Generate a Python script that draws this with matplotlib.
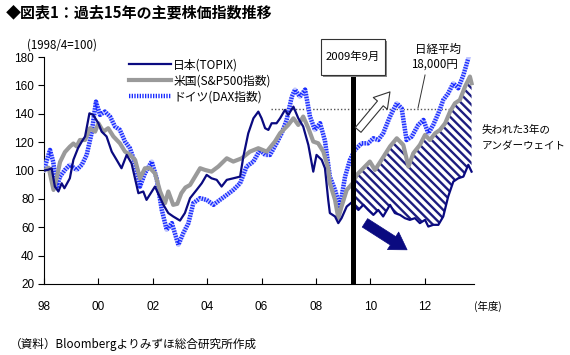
import matplotlib
matplotlib.use("Agg")
import matplotlib.pyplot as plt
from matplotlib.patches import Rectangle

# ── Fonts ──────────────────────────────────────────────────────────────────────
plt.rcParams["font.family"] = ["Noto Sans CJK JP", "DejaVu Sans"]
plt.rcParams["hatch.linewidth"] = 1.7
plt.rcParams["hatch.color"] = "#1c1c80"

# ── Data (x = year, 1998.25 = 1998/4; index 1998/4 = 100) ─────────────────────
topix_t = [1998.25, 1998.40, 1998.53, 1998.65, 1998.78, 1998.90, 1999.00, 1999.20,
           1999.33, 1999.50, 1999.64, 1999.76, 1999.92, 2000.06, 2000.25, 2000.37,
           2000.55, 2000.74, 2000.92, 2001.10, 2001.29, 2001.47, 2001.72, 2001.90,
           2002.02, 2002.33, 2002.64, 2002.82, 2003.00, 2003.25, 2003.43, 2003.62,
           2003.86, 2004.05, 2004.23, 2004.41, 2004.60, 2004.78, 2004.97, 2005.21,
           2005.46, 2005.58, 2005.76, 2005.95, 2006.13, 2006.25, 2006.38, 2006.50,
           2006.62, 2006.80, 2006.93, 2007.11, 2007.23, 2007.42, 2007.60, 2007.78,
           2007.97, 2008.15, 2008.27, 2008.46, 2008.58, 2008.70, 2008.76, 2008.95,
           2009.07, 2009.19, 2009.38, 2009.60, 2009.68, 2009.81, 2009.99, 2010.17,
           2010.36, 2010.54, 2010.72, 2010.97, 2011.15, 2011.34, 2011.52, 2011.70,
           2011.89, 2012.07, 2012.26, 2012.38, 2012.56, 2012.75, 2012.93, 2013.11,
           2013.30, 2013.48, 2013.67, 2013.85, 2013.97]
topix_v = [100, 100.5, 101.6, 88.7, 85.2, 91, 87.5, 94.5,
           107.5, 115.7, 120.4, 124, 140.3, 139.2, 133.3, 127.4,
           124, 113.3, 107.5, 101.6, 111, 105, 84, 85.2,
           79.3, 88.7, 75.8, 70, 67.6, 64.7, 70, 80.5,
           86.3, 91, 96.9, 94.5, 93.4, 88.7, 93.4, 94.5,
           95.7, 109.8, 126.2, 136.8, 141.5, 136.8, 129.8, 128.6,
           133.3, 133.3, 136.8, 142.7, 139.2, 145, 136.8, 131,
           118, 99.2, 111, 107.5, 101.6, 79.3, 70, 67.6,
           62.9, 66.4, 74.6, 78.1, 74.6, 72.2, 75.8, 72.2,
           68.7, 72.2, 67.6, 75.8, 70, 68.7, 66.4, 65.2,
           66.4, 62.9, 65.2, 60.5, 61.7, 61.7, 67.6, 81.6,
           92.2, 94.5, 95.7, 104, 99.2]

sp500_t = [1998.25, 1998.42, 1998.60, 1998.72, 1998.84, 1999.02, 1999.20, 1999.33,
           1999.45, 1999.57, 1999.76, 1999.94, 2000.13, 2000.25, 2000.43, 2000.61,
           2000.80, 2001.04, 2001.23, 2001.41, 2001.60, 2001.78, 2001.96, 2002.15,
           2002.33, 2002.52, 2002.70, 2002.82, 2003.00, 2003.15, 2003.30, 2003.45,
           2003.62, 2003.99, 2004.17, 2004.41, 2004.66, 2004.97, 2005.21, 2005.52,
           2005.82, 2006.13, 2006.44, 2006.74, 2006.93, 2007.23, 2007.42, 2007.60,
           2007.78, 2007.97, 2008.15, 2008.33, 2008.52, 2008.70, 2008.76, 2008.95,
           2009.07, 2009.19, 2009.38, 2009.60, 2009.75, 2009.99, 2010.23, 2010.42,
           2010.66, 2010.97, 2011.22, 2011.46, 2011.65, 2011.83, 2012.07, 2012.26,
           2012.44, 2012.63, 2012.81, 2013.00, 2013.18, 2013.36, 2013.54, 2013.73,
           2013.91, 2013.97]
sp500_v = [100, 102, 86.3, 95, 106, 113, 116.8, 119,
           117, 121.5, 121.5, 129.8, 127.4, 133.3, 127.4, 129.8,
           124, 119.2, 113.3, 111, 107.5, 94.5, 101.6, 101.6,
           98, 85.2, 77, 85.2, 75.8, 76.5, 84, 88,
           89.8, 101.6, 100.4, 99.2, 102.8, 108.6, 106.3, 108.6,
           113.3, 115.7, 113.3, 120.4, 126.3, 132.1, 136.8, 132.1,
           138, 129.8, 120.4, 119.2, 113.3, 101.6, 91, 79.3,
           66.4, 74.6, 86.3, 91, 96.9, 101.6, 106.3, 100.4,
           107.5, 116.9, 122.7, 118, 102.8, 112.2, 118, 125.1,
           121.5, 126.2, 128.6, 133.3, 141.5, 147.4, 149.7, 159.1,
           166.2, 161.5]

dax_t = [1998.25, 1998.32, 1998.47, 1998.59, 1998.72, 1998.84, 1999.02, 1999.20,
         1999.45, 1999.64, 1999.82, 2000.00, 2000.16, 2000.31, 2000.49, 2000.68,
         2000.86, 2001.04, 2001.23, 2001.41, 2001.60, 2001.78, 2001.96, 2002.21,
         2002.39, 2002.58, 2002.76, 2002.95, 2003.19, 2003.37, 2003.56, 2003.74,
         2003.99, 2004.23, 2004.48, 2004.72, 2004.97, 2005.21, 2005.46, 2005.70,
         2005.95, 2006.19, 2006.38, 2006.56, 2006.80, 2006.99, 2007.17, 2007.36,
         2007.48, 2007.66, 2007.85, 2008.03, 2008.21, 2008.40, 2008.58, 2008.76,
         2008.95, 2009.13, 2009.32, 2009.50, 2009.68, 2009.93, 2010.17, 2010.36,
         2010.54, 2010.72, 2010.97, 2011.22, 2011.40, 2011.58, 2011.77, 2012.01,
         2012.20, 2012.38, 2012.56, 2012.75, 2012.93, 2013.11, 2013.30, 2013.48,
         2013.67, 2013.85]
dax_v = [100, 105, 114.5, 106, 88.7, 95.7, 100.4, 104,
         100.4, 104, 111, 126.3, 148.5, 139.2, 141.5, 138,
         131, 128.6, 120.4, 115.7, 105, 88.7, 98, 106.3,
         94.5, 72.3, 58.2, 62.9, 47.6, 55.8, 62.9, 77,
         80.5, 79.3, 75.8, 79.3, 82.8, 86.3, 91, 102.8,
         106.3, 114.5, 111, 111, 119.2, 126.3, 135.6, 152,
         157, 152, 157, 138, 128.6, 133.3, 121, 95.7,
         86.3, 74.6, 95.7, 107.5, 114.5, 119.2, 119.2, 122.7,
         121.5, 126.2, 138, 147.4, 143.8, 121.5, 123.9, 132.1,
         135.6, 126.2, 132.1, 140.3, 149.7, 154.4, 161.5, 158,
         167.3, 179]

x_ticks = [1998.25, 2000.25, 2002.25, 2004.25, 2006.25, 2008.25, 2010.25, 2012.25]
x_labels = ["98", "00", "02", "04", "06", "08", "10", "12"]
y_ticks = [20, 40, 60, 80, 100, 120, 140, 160, 180]

sept_2009 = 2009.6
nikkei_18000 = 143.5      # TOPIX level equal to Nikkei 18,000
nikkei_from = 2006.6

NAVY = "#0a0a80"

# ── Figure ─────────────────────────────────────────────────────────────────────
fig = plt.figure(figsize=(5.7, 3.55), dpi=100)
ax = fig.add_axes([44 / 570, 71 / 355, 430 / 570, 227 / 355])

# DAX: light band with fine blue dots on top, like the dithered line
ax.plot(dax_t, dax_v, color="#c2c8ff", lw=3.2, zorder=3, solid_joinstyle="round")
ax.plot(dax_t, dax_v, color="#1a2cff", lw=3.2, zorder=3,
        linestyle=(0, (0.3, 0.3)), label="ドイツ(DAX指数)")
ax.plot(sp500_t, sp500_v, color="#9a9a9a", lw=3.0, label="米国(S&P500指数)", zorder=4)
ax.plot(topix_t, topix_v, color=NAVY, lw=1.6, label="日本(TOPIX)", zorder=5)

# hatched gap between S&P500 and TOPIX after 2009/9
hx = [t for t in sp500_t if t >= sept_2009] + [t for t in topix_t if t >= sept_2009][::-1]
hy = ([v for t, v in zip(sp500_t, sp500_v) if t >= sept_2009]
      + [v for t, v in zip(topix_t, topix_v) if t >= sept_2009][::-1])
ax.fill(hx, hy, facecolor="white", edgecolor="#1c1c80", hatch="\\\\\\\\", lw=0, zorder=2)

# Nikkei 18,000 level
ax.hlines(nikkei_18000, nikkei_from, 2014.0, colors="#555555", lw=1.0,
          linestyles=(0, (1, 1.5)), zorder=1)

ax.set_xlim(1998.25, 2014.06)
ax.set_ylim(20, 180)
ax.set_xticks(x_ticks)
ax.set_xticklabels(x_labels)
ax.set_yticks(y_ticks)
ax.tick_params(axis="x", direction="in", length=4, pad=12, labelsize=8.5)
ax.tick_params(axis="y", direction="out", length=4, pad=3, labelsize=8.5)
for lab in ax.get_xticklabels() + ax.get_yticklabels():
    lab.set_family(["Liberation Sans", "DejaVu Sans"])
for s in ["top", "right"]:
    ax.spines[s].set_visible(False)

handles, labels = ax.get_legend_handles_labels()
ax.legend(handles[::-1], labels[::-1], loc="upper left", bbox_to_anchor=(0.185, 1.02),
          frameon=False, fontsize=8.5, handlelength=3.5, handletextpad=0.2,
          labelspacing=0.25, borderpad=0)

# 2009/9 marker line + box
box_bottom, box_top, box_w = 167.3, 192.5, 2.35
ax.vlines(sept_2009, 20, box_bottom, colors="black", lw=3.6, zorder=6, clip_on=False)
ax.add_patch(Rectangle((sept_2009 - box_w / 2 + 0.08, box_bottom - 1.4), box_w, box_top - box_bottom,
                       facecolor="#888888", edgecolor="none", clip_on=False, zorder=6))
ax.add_patch(Rectangle((sept_2009 - box_w / 2, box_bottom), box_w, box_top - box_bottom,
                       facecolor="white", edgecolor="#333333", lw=0.8, clip_on=False, zorder=7))
ax.text(sept_2009, (box_bottom + box_top) / 2, "2009年9月", ha="center", va="center",
        fontsize=8.2, zorder=8)

# arrows
ax.annotate("", xy=(2010.97, 155.4), xytext=(2009.8, 128.6),
            arrowprops=dict(arrowstyle="simple,head_length=0.9,head_width=1.1,tail_width=0.45",
                            fc="white", ec="#333333", lw=0.8, shrinkA=0, shrinkB=0,
                            mutation_scale=12), zorder=8)
ax.annotate("", xy=(2011.6, 44.1), xytext=(2010.05, 63.1),
            arrowprops=dict(arrowstyle="simple,head_length=1.0,head_width=1.25,tail_width=0.6",
                            fc=NAVY, ec=NAVY, lw=0.5, shrinkA=0, shrinkB=0,
                            mutation_scale=12), zorder=8)

# Nikkei label with leader
ax.plot([2012.26, 2012.0], [167.3, 144], color="#333333", lw=0.7, zorder=6)
ax.text(2012.72, 185.0, "日経平均", ha="center", va="center", fontsize=8.3)
ax.text(2012.62, 175.2, "18,000円", ha="center", va="center", fontsize=8.3)

# ── Texts ──────────────────────────────────────────────────────────────────────
fig.text(6 / 570, 1 - 12 / 355, "◆図表1：過去15年の主要株価指数推移", fontsize=10.8,
         fontweight="bold", va="center", ha="left")
fig.text(27 / 570, 1 - 45 / 355, "(1998/4=100)", fontsize=8.3, va="center")
fig.text(474 / 570, 1 - 306 / 355, "(年度)", fontsize=7.5, va="center")
fig.text(482 / 570, 1 - 130 / 355, "失われた3年の", fontsize=7.6, va="center")
fig.text(482 / 570, 1 - 146 / 355, "アンダーウェイト", fontsize=7.6, va="center")
fig.text(10 / 570, 1 - 344 / 355, "（資料）Bloombergよりみずほ総合研究所作成",
         fontsize=8.4, va="center")

fig.savefig("out.png", dpi=100)
